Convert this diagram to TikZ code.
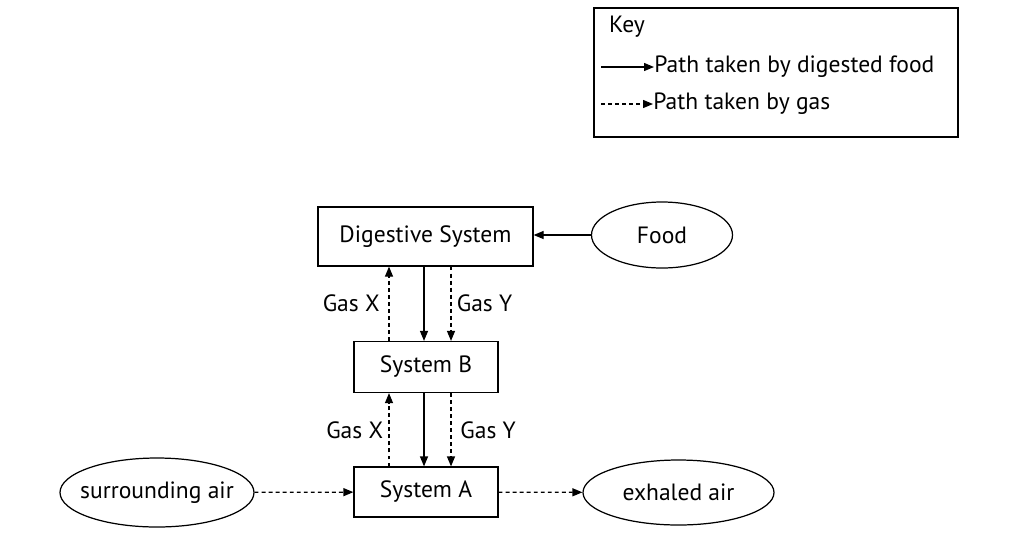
\documentclass[tikz,border=0pt]{standalone}
\usepackage{fontspec}
\setmainfont{PT Sans}
\usetikzlibrary{arrows.meta,shapes.geometric}

\begin{document}
\begin{tikzpicture}[
  every node/.style={font=\fontsize{13.4}{16}\selectfont},
  box/.style={draw,line width=0.7pt,rectangle,inner sep=0pt},
  oval/.style={draw,line width=0.7pt,ellipse,inner sep=0pt},
  flow/.style={line width=0.7pt,-{Triangle[length=2mm,width=1.6mm]}},
  gas/.style={flow,dash pattern=on 2.2pt off 1.8pt}]
\useasboundingbox (0,0) rectangle (20.42,10.84);
\node[box,minimum width=7.28cm,minimum height=2.58cm] (key) at (15.52,9.39) {};
\node (keytitle) at (12.54,10.30) {Key};
\coordinate (k1) at (12.02,9.50);
\coordinate (k2) at (12.02,8.76);
\node[anchor=west,inner sep=0pt] (t1) at (13.08,9.50) {Path taken by digested food};
\node[anchor=west,inner sep=0pt] (t2) at (13.06,8.76) {Path taken by gas};
\draw[flow] (k1) -- (t1.west);
\draw[gas] (k2) -- (t2.west);
\node[box,minimum width=4.30cm,minimum height=1.18cm] (ds) at (8.51,6.11) {Digestive System};
\node[oval,minimum width=2.82cm,minimum height=1.32cm] (food) at (13.24,6.14) {Food};
\node[box,minimum width=2.88cm,minimum height=1.02cm] (sysB) at (8.52,3.50) {System B};
\node[box,minimum width=2.88cm,minimum height=1.00cm] (sysA) at (8.52,1.00) {System A};
\node[oval,inner xsep=-0.22cm,minimum width=3.88cm,minimum height=1.38cm] (surr) at (3.14,0.99) {surrounding air};
\node[oval,minimum width=3.82cm,minimum height=1.30cm] (exh) at (13.57,0.99) {exhaled air};
\draw[flow] (food.west) -- (food.west -| ds.east);
\draw[gas] ([xshift=-0.74cm]sysB.north) -- node[left,inner sep=5pt] {Gas X} ([xshift=-0.74cm]ds.south -| sysB.north);
\draw[flow] ([xshift=-0.04cm]ds.south -| sysB.north) -- ([xshift=-0.04cm]sysB.north);
\draw[gas] ([xshift=0.50cm]ds.south -| sysB.north) -- node[right,inner sep=3pt] {Gas Y} ([xshift=0.50cm]sysB.north);
\draw[gas] ([xshift=-0.74cm]sysA.north) -- node[left,inner sep=3pt] {Gas X} ([xshift=-0.74cm]sysB.south);
\draw[flow] ([xshift=-0.04cm]sysB.south) -- ([xshift=-0.04cm]sysA.north);
\draw[gas] ([xshift=0.50cm]sysB.south) -- node[right,inner sep=5pt] {Gas Y} ([xshift=0.50cm]sysA.north);
\draw[gas] (surr) -- (sysA);
\draw[gas] (sysA) -- (exh);
\end{tikzpicture}
\end{document}
